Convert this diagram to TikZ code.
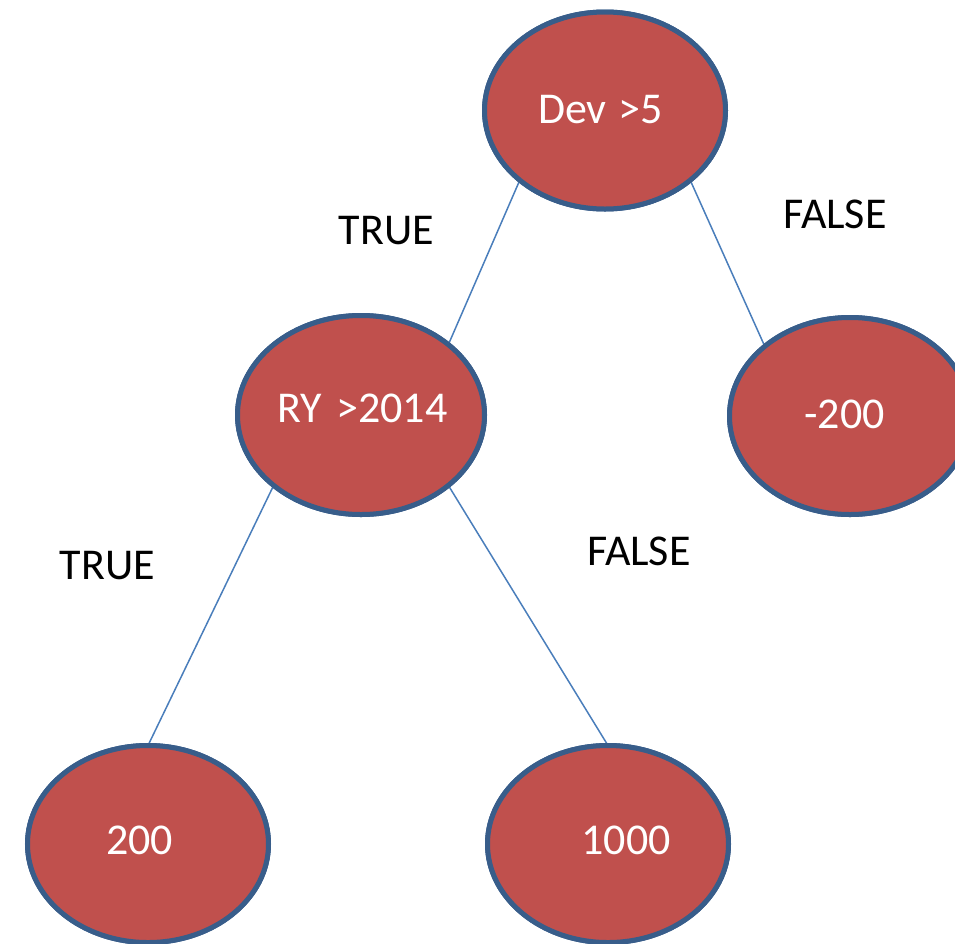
\documentclass[tikz,border=0pt]{standalone}
\usepackage{fontspec}
\setmainfont{Carlito}
\usetikzlibrary{shapes.geometric}
\definecolor{nodefill}{HTML}{C0504D}
\definecolor{nodeedge}{HTML}{385D8A}
\definecolor{edgeblue}{HTML}{4A7EBB}
\tikzset{
  decision/.style={ellipse, draw=nodeedge, fill=nodefill, line width=5pt,
    minimum width=241pt, minimum height=197pt, inner sep=0pt, outer sep=0pt},
  bigdecision/.style={decision, minimum width=247pt, minimum height=199pt},
  branch/.style={draw=edgeblue, line width=1.5pt},
  valtext/.style={anchor=base, text=white, inner sep=0pt,
    font=\fontsize{44}{52}\selectfont},
  edgetext/.style={anchor=base, text=black, inner sep=0pt,
    font=\fontsize{44}{52}\selectfont}
}
\begin{document}
\begin{tikzpicture}[x=1pt, y=-1pt]
  \clip (0,0) rectangle (955,943);
  % tree nodes
  \path (605,110.5) node[decision]    (dev) {}
        (361,415)   node[bigdecision] (ry) {}
        (850,416)   node[decision]    (neg) {}
        (148,844)   node[decision]    (two) {}
        (608,844)   node[decision]    (thou) {};
  % branches
  \draw[branch] (dev.south west) -- (ry.north east);
  \draw[branch] (dev.south east) -- (neg.north west);
  \draw[branch] (ry.south west) -- (two.north);
  \draw[branch] (ry.south east) -- (thou.north);
  % redraw nodes over branch ends
  \path (605,110.5) node[decision]    {}
        (361,415)   node[bigdecision] {}
        (850,416)   node[decision]    {}
        (148,844)   node[decision]    {}
        (608,844)   node[decision]    {};
  % node texts
  \node[valtext] (tdev)  at (600.5,123) {Dev\kern2pt{} >5};
  \node[valtext] (try)   at (362.5,422) {RY\kern4pt{} >2014};
  \node[valtext] (tneg)  at (844.5,428) {-200};
  \node[valtext] (ttwo)  at (139.5,854) {200};
  \node[valtext] (tthou) at (626,854)   {1000};
  % branch labels
  \node[edgetext] (l1) at (386.5,244) {TRUE};
  \node[edgetext] (l2) at (835,228)   {FALSE};
  \node[edgetext] (l3) at (107.5,579) {TRUE};
  \node[edgetext] (l4) at (639,565)   {FALSE};
\end{tikzpicture}
\end{document}
